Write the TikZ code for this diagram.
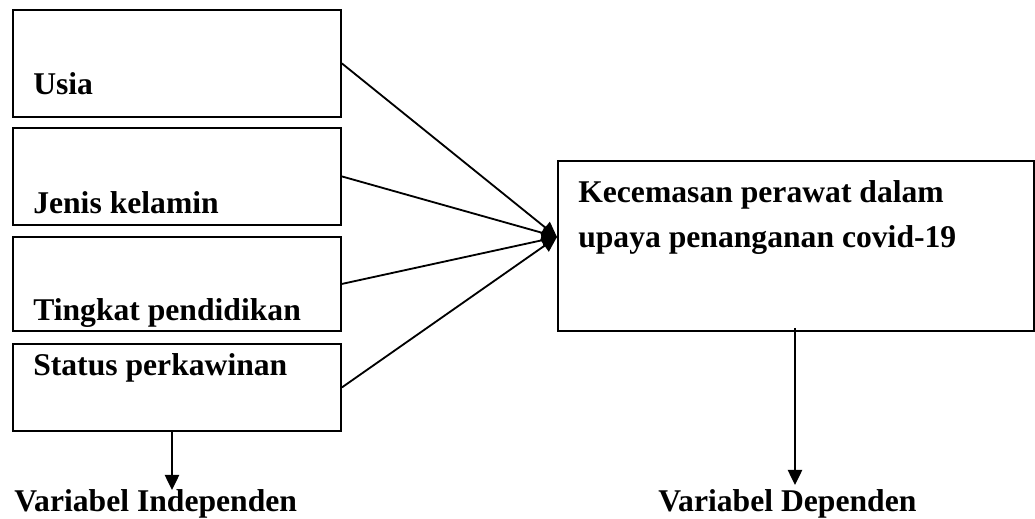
\documentclass[tikz,border=0pt]{standalone}
\usepackage{fontspec}
\setmainfont{Liberation Serif}
\usetikzlibrary{arrows.meta,calc,positioning}

\begin{document}
\begin{tikzpicture}[
  x=0.025cm, y=-0.025cm,
  font=\fontsize{22.5}{27}\selectfont\bfseries,
  >={Triangle[length=3.8mm,width=3.6mm]},
  varbox/.style={draw,rectangle,line width=1.3pt,inner sep=0pt,anchor=north west},
  vartext/.style={inner sep=0pt,anchor=base west},
  link/.style={line width=1.3pt},
]
\useasboundingbox (0,0) rectangle (1035,519);

%% --- independent variables (left column) ---
\node[varbox,minimum width=8.2cm,minimum height=2.675cm] (usia) at (12,9) {};
\node[varbox,minimum width=8.2cm,minimum height=2.425cm] (jenis) at (12,127) {};
\node[varbox,minimum width=8.2cm,minimum height=2.35cm] (tingkat) at (12,236) {};
\node[varbox,minimum width=8.2cm,minimum height=2.175cm] (status) at (12,343) {};

\node[vartext] (usiatxt) at (33,95) {Usia};
\node[vartext] (jenistxt) at (33,213) {Jenis kelamin};
\node[vartext] (tingkattxt) at (33,320) {Tingkat pendidikan};
\node[vartext] (statustxt) at (33,375) {Status perkawinan};

%% --- dependent variable (right) ---
\node[varbox,minimum width=11.9cm,minimum height=4.25cm] (cemas) at (557,160) {};
\node[vartext] (cemastxta) at (578,202) {Kecemasan perawat dalam};
\node[vartext] (cemastxtb) at (578,247) {upaya penanganan covid-19};

%% --- links into the dependent box ---
\coordinate (hub) at (557,237);
\foreach \v in {usia,jenis,tingkat,status}
  \draw[link,->] (\v.east) -- (hub);

%% --- captions ---
\node[vartext] (indlab) at (14,511) {Variabel Independen};
\node[vartext] (deplab) at (658,511) {Variabel Dependen};

\coordinate (indtip) at (172,490);
\coordinate (deptip) at (795,485);
\draw[link,->] (status.south -| indtip) -- (indtip);
\draw[link,->] ($(cemas.south -| deptip)+(0,-4)$) -- (deptip);

\end{tikzpicture}
\end{document}
